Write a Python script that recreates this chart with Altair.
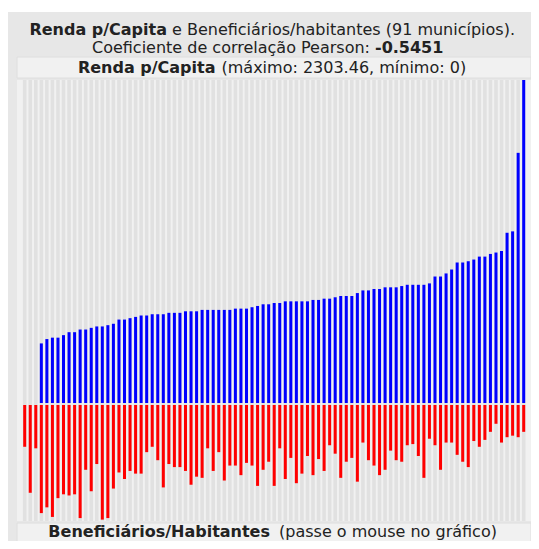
import altair as alt
import pandas as pd

# Renda p/Capita, sorted ascending (91 municipios)
renda = [0, 0, 0, 425, 456, 466, 466, 484, 505, 505, 524, 524, 536, 546, 546,
         555, 565, 595, 595, 605, 614, 624, 624, 633, 633, 633, 643, 643, 643,
         654, 654, 654, 664, 664, 664, 664, 664, 664, 673, 673, 673, 683, 692,
         704, 704,
         713, 713, 725, 725, 725, 725, 725, 735, 735, 744, 744, 754, 763, 763,
         763, 784, 803, 803, 813, 813, 825, 825, 825, 834, 843, 843, 843, 843,
         853, 902, 902, 924, 952, 1002, 1002, 1011, 1023, 1044, 1044, 1063,
         1073, 1084, 1214, 1224, 1784, 2303.46]

# Beneficiarios / habitantes (%), same order
benef = [10.9, 22.9, 11.3, 28.2, 26.7, 29.2, 24.3, 23.3, 23.6, 23.3, 29.5, 16.9,
         22.5, 15.4, 29.9, 29.5, 21.8, 17.6, 19.3, 17.2, 17.9, 17.9, 12.3, 10.9,
         14.4, 21.5, 15.4, 16.2, 16.2, 17.2, 20.8, 18.7, 19.0, 11.3, 17.2, 12.3,
         19.7, 15.8, 15.8, 18.3, 15.1, 15.8, 21.1, 16.9, 14.8,
         21.1, 11.3, 19.3, 13.8, 20.4, 17.9, 13.3, 18.3, 14.1, 17.2, 10.5, 12.7,
         19.0, 14.8, 13.8, 20.0, 9.8, 14.4, 15.8, 18.3, 16.9, 11.9, 14.4, 14.8,
         10.5, 10.2, 13.3, 19.0, 8.8, 10.5, 16.9, 9.8, 9.8, 13.0, 14.8, 16.2,
         9.4, 10.9, 9.1, 7.0, 4.9, 9.8, 8.4, 8.0, 8.4, 7.0]

idx = list(range(len(renda)))

title1_bold = "Renda p/Capita"
title1_rest = "e Beneficiários/habitantes (91 municípios)."
title2_rest = "Coeficiente de correlação Pearson:"
title2_bold = "-0.5451"
head_bold = "Renda p/Capita"
head_rest = "(máximo: 2303.46, mínimo: 0)"
foot_bold = "Beneficiários/Habitantes"
foot_rest = "(passe o mouse no gráfico)"

df = pd.DataFrame({"i": idx, "renda": renda, "benef": benef})
one = pd.DataFrame({"k": [0]})

W, H = 523, 533
FONT = "DejaVu Sans"
FS = 16
TXT = "#222222"

xsc = alt.Scale(domain=[0, 90], range=[11.7, 520.7], nice=False, zero=False)


def rect(x1, x2, y1, y2, fill, stroke=None):
    kw = {"fill": fill}
    if stroke:
        kw.update(stroke=stroke, strokeWidth=1)
    return alt.Chart(one).mark_rect(**kw).encode(
        x=alt.value(x1), x2=alt.value(x2), y=alt.value(y1), y2=alt.value(y2))


def txt(s, x, y, align, bold):
    return alt.Chart(one).mark_text(
        text=s, align=align, baseline="alphabetic", font=FONT, fontSize=FS,
        fontWeight="bold" if bold else "normal", color=TXT
    ).encode(x=alt.value(x), y=alt.value(y))


frame = rect(0, W, 4, H, "#e7e7e7")
head = rect(9, 523, 49, 70, "#f1f1f1", "#dedede")
plotbg = rect(9, 523, 72, 513, "#f1f1f1")
foot = rect(9, 523, 515, H + 2, "#f1f1f1", "#dedede")

cols = alt.Chart(df).mark_bar(size=3.6, color="#e1e1e1").encode(
    x=alt.X("i:Q", scale=xsc, axis=None),
    y=alt.value(72), y2=alt.value(513))

blue = alt.Chart(df).transform_filter("datum.renda > 0").mark_bar(
    size=3, color="#0000ff").encode(
    x=alt.X("i:Q", scale=xsc, axis=None),
    y=alt.Y("renda:Q", scale=alt.Scale(domain=[0, 2303.46], range=[395, 72], nice=False), axis=None))

red = alt.Chart(df).mark_bar(size=3, color="#ff0000").encode(
    x=alt.X("i:Q", scale=xsc, axis=None),
    y=alt.Y("benef:Q", scale=alt.Scale(domain=[0, 30], range=[397, 512], nice=False), axis=None))

texts = [
    txt(title1_bold, 159, 26.5, "right", True),
    txt(title1_rest, 164, 26.5, "left", False),
    txt(title2_rest, 362, 44.5, "right", False),
    txt(title2_bold, 367, 44.5, "left", True),
    txt(head_bold, 207.5, 65, "right", True),
    txt(head_rest, 213.5, 65, "left", False),
    txt(foot_bold, 262, 529, "right", True),
    txt(foot_rest, 271, 529, "left", False),
]

chart = alt.layer(frame, head, plotbg, foot, cols, blue, red, *texts).resolve_scale(
    y="independent"
).properties(
    width=W, height=H, padding=0, autosize=alt.AutoSizeParams(type="none")
).configure_view(stroke=None)

chart.save("out.html", embed_options={"renderer": "svg", "actions": False})
